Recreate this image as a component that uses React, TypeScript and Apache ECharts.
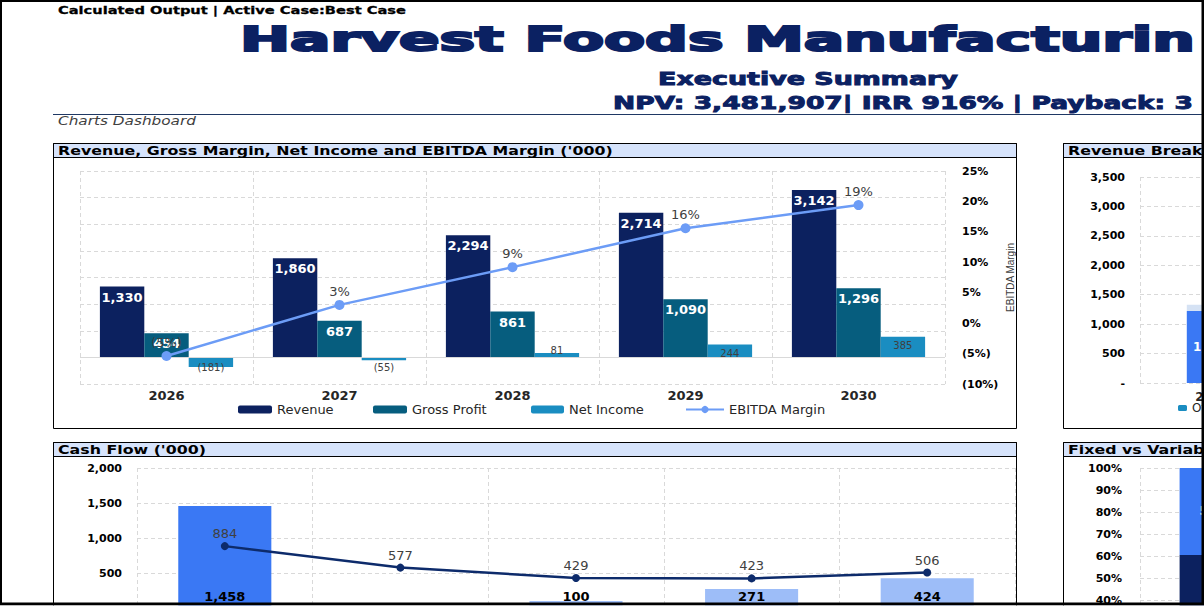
import React, { useEffect, useRef } from "react";
import * as echarts from "echarts";

// ---------- data ----------
const years = ["2026", "2027", "2028", "2029", "2030"];

// Revenue, Gross Margin, Net Income and EBITDA Margin ('000)
const revenue = [1330, 1860, 2294, 2714, 3142];
const grossProfit = [454, 687, 861, 1090, 1296];
const netIncome = [-181, -55, 81, 244, 385];
const ebitdaMargin = [-5.4, 3.0, 9.2, 15.6, 19.4]; // %

// Revenue Breakdown ('000)
const revOther = [0, 0, 0, 0, 0];
const revCore = [1224, 1700, 2100, 2480, 2860];
const revServices = [106, 160, 194, 234, 282];

// Cash Flow ('000)
const cashFlowBars = [1458, -120, 100, 271, 424];
const cashFlowLine = [884, 577, 429, 423, 506];

// Fixed vs Variable Costs
const fixedCosts = [804, 850, 900, 950, 1000];
const variableCosts = [525, 700, 860, 1010, 1160];

// ---------- styling helpers ----------
const FONT = '"DejaVu Sans", Verdana, sans-serif';
const NAVY = "#0C215F";
const TEAL = "#065D7E";
const CYAN = "#1A8DC1";
const LIGHT_LINE = "#6C9CF6";
const BLUE = "#3A78F4";
const PALE_BLUE = "#9DBDF8";
const GRID_LINE = "#D9D9D9";
const HEADER_BG = "#D6E3FB";

const fmtNum = (v: number) =>
  v < 0 ? `(${Math.abs(v).toLocaleString("en-US")})` : v.toLocaleString("en-US");
const fmtPct = (v: number) =>
  v < 0 ? `(${Math.abs(Math.round(v))}%)` : `${Math.round(v)}%`;

let measureCtx: CanvasRenderingContext2D | null = null;
function measure(text: string, font: string) {
  if (!measureCtx) measureCtx = document.createElement("canvas").getContext("2d");
  measureCtx!.font = font;
  return measureCtx!.measureText(text).width;
}

type TOpts = {
  size: number;
  weight?: string;
  style?: string;
  fill: string;
  family?: string;
  stroke?: number;
};
function fontStr(o: TOpts) {
  return `${o.style || "normal"} ${o.weight || "normal"} ${o.size}px ${o.family || FONT}`;
}
function textScaled(text: string, x: number, y: number, scale: number, o: TOpts) {
  const style: any = {
    text,
    x: 0,
    y: 0,
    fontSize: o.size,
    fontWeight: o.weight || "normal",
    fontStyle: o.style || "normal",
    fontFamily: o.family || FONT,
    fill: o.fill,
    align: "left",
    verticalAlign: "middle",
  };
  if (o.stroke) {
    style.stroke = o.fill;
    style.lineWidth = o.stroke;
  }
  return { type: "text", x, y, scaleX: scale, z: 120, silent: true, style };
}
function textFit(text: string, x: number, y: number, width: number, o: TOpts) {
  const w = measure(text, fontStr(o));
  return textScaled(text, x, y, width / w, o);
}

const dashed = { show: true, lineStyle: { color: GRID_LINE, type: [4, 3] as any, width: 1 } };

function buildOption() {
  const headerOpts: TOpts = { size: 12, weight: "bold", fill: "#000" };
  const h1 = "Revenue, Gross Margin, Net Income and EBITDA Margin ('000)";
  const headerScale = 555 / measure(h1, fontStr(headerOpts));

  const panel = (x: number, y: number, w: number, h: number) => [
    {
      type: "rect",
      z: 110,
      silent: true,
      shape: { x, y, width: w, height: 14 },
      style: { fill: HEADER_BG, stroke: "#000", lineWidth: 1 },
    },
    {
      type: "rect",
      z: 111,
      silent: true,
      shape: { x, y, width: w, height: h },
      style: { fill: "none", stroke: "#000", lineWidth: 1 },
    },
  ];

  const graphic: any[] = [
    ...panel(53.5, 143.5, 963, 285),
    ...panel(1063.5, 143.5, 300, 285),
    ...panel(53.5, 442.5, 963, 300),
    ...panel(1063.5, 442.5, 300, 300),
    textScaled(h1, 58, 150.5, headerScale, headerOpts),
    textScaled("Revenue Breakdown ('000)", 1068, 150.5, headerScale, headerOpts),
    textScaled("Cash Flow ('000)", 58, 449.5, headerScale, headerOpts),
    textScaled("Fixed vs Variable Costs", 1068, 449.5, headerScale, headerOpts),
    textFit("Calculated Output | Active Case:Best Case", 58, 10, 348, {
      size: 11,
      weight: "bold",
      fill: "#000",
      stroke: 0.3,
    }),
    textFit("Harvest Foods Manufacturin", 240, 39.5, 955, {
      size: 33,
      weight: "bold",
      fill: "#0B2162",
      stroke: 2,
    }),
    textFit("Executive Summary", 658, 79, 300, {
      size: 17,
      weight: "bold",
      fill: "#0B2162",
      stroke: 0.9,
    }),
    textFit("NPV: 3,481,907| IRR 916% | Payback: 3", 613, 103, 580, {
      size: 17,
      weight: "bold",
      fill: "#0B2162",
      stroke: 0.9,
    }),
    {
      type: "line",
      z: 100,
      silent: true,
      shape: { x1: 53, y1: 114.5, x2: 1204, y2: 114.5 },
      style: { stroke: "#1F3864", lineWidth: 1.2 },
    },
    textFit("Charts Dashboard", 58, 121, 138, {
      size: 12,
      style: "italic",
      fill: "#404040",
    }),
    // outer frame
    { type: "rect", z: 130, silent: true, shape: { x: 0, y: 0, width: 1204, height: 2 }, style: { fill: "#000" } },
    { type: "rect", z: 130, silent: true, shape: { x: 0, y: 0, width: 2, height: 605 }, style: { fill: "#000" } },
    { type: "rect", z: 130, silent: true, shape: { x: 1201.5, y: 0, width: 2.5, height: 605 }, style: { fill: "#000" } },
    { type: "rect", z: 130, silent: true, shape: { x: 0, y: 602.5, width: 1204, height: 3 }, style: { fill: "#000" } },
    { type: "rect", z: 130, silent: true, shape: { x: 0, y: 605.5, width: 1204, height: 3 }, style: { fill: "#fff" } },
  ];

  const catAxis = (gridIndex: number, labelSize: number, margin: number) => ({
    type: "category",
    gridIndex,
    data: years,
    axisLine: { show: false },
    axisTick: { show: false },
    splitLine: dashed,
    axisLabel: {
      fontFamily: FONT,
      fontWeight: "bold",
      fontSize: labelSize,
      color: "#262626",
      margin,
    },
  });

  const legendBase = {
    orient: "horizontal",
    padding: 0,
    selectedMode: false,
    itemGap: 20,
    width: 2000,
    textStyle: { fontFamily: FONT, fontSize: 13, color: "#262626" },
  };

  return {
    animation: false,
    backgroundColor: "#fff",
    graphic,
    grid: [
      { left: 80, top: 171, width: 865, height: 213, outerBoundsMode: "none" },
      { left: 1140, top: 177, width: 720, height: 206, outerBoundsMode: "none" },
      { left: 137, top: 468, width: 878, height: 175, outerBoundsMode: "none" },
      { left: 1140, top: 468, width: 720, height: 220, outerBoundsMode: "none" },
    ],
    legend: [
      { ...legendBase, data: ["Revenue"], left: 238, top: 403, itemWidth: 34, itemHeight: 8 },
      { ...legendBase, data: ["Gross Profit"], left: 373, top: 403, itemWidth: 34, itemHeight: 8 },
      { ...legendBase, data: ["Net Income"], left: 531, top: 403, itemWidth: 33, itemHeight: 8 },
      { ...legendBase, data: ["EBITDA Margin"], left: 685, top: 403, itemWidth: 38, itemHeight: 9 },
      {
        ...legendBase,
        data: ["Other", "Core Products", "Services"],
        left: 1178,
        top: 402,
        itemWidth: 9,
        itemHeight: 6,
        textStyle: { fontFamily: FONT, fontSize: 12, color: "#262626" },
      },
    ],
    xAxis: [catAxis(0, 13, 5), catAxis(1, 12, 8), catAxis(2, 13, 6), catAxis(3, 12, 6)],
    yAxis: [
      {
        type: "value",
        gridIndex: 0,
        min: -500,
        max: 3500,
        interval: 500,
        axisLabel: { show: false },
        axisLine: { show: false },
        axisTick: { show: false },
        splitLine: dashed,
      },
      {
        type: "value",
        gridIndex: 0,
        position: "right",
        min: -10,
        max: 25,
        interval: 5,
        axisLine: { show: false },
        axisTick: { show: false },
        splitLine: { show: false },
        axisLabel: {
          formatter: (v: number) => fmtPct(v),
          fontFamily: FONT,
          fontWeight: "bold",
          fontSize: 11,
          color: "#000",
          margin: 17,
        },
        name: "EBITDA Margin",
        nameLocation: "middle",
        nameRotate: 90,
        nameGap: 60,
        nameMoveOverlap: false,
        nameTextStyle: {
          fontFamily: '"Liberation Sans", sans-serif',
          fontSize: 10,
          color: "#404040",
        },
      },
      {
        type: "value",
        gridIndex: 1,
        min: 0,
        max: 3500,
        interval: 500,
        axisLine: { show: false },
        axisTick: { show: false },
        splitLine: dashed,
        axisLabel: {
          formatter: (v: number) => (v === 0 ? "-" : fmtNum(v)),
          fontFamily: FONT,
          fontWeight: "bold",
          fontSize: 11,
          color: "#000",
          margin: 15,
        },
      },
      {
        type: "value",
        gridIndex: 2,
        min: -500,
        max: 2000,
        interval: 500,
        axisLine: { show: false },
        axisTick: { show: false },
        splitLine: dashed,
        axisLabel: {
          formatter: (v: number) => (v === 0 ? "-" : fmtNum(v)),
          fontFamily: FONT,
          fontWeight: "bold",
          fontSize: 11,
          color: "#000",
          margin: 15,
        },
      },
      {
        type: "value",
        gridIndex: 3,
        min: 0,
        max: 100,
        interval: 10,
        axisLine: { show: false },
        axisTick: { show: false },
        splitLine: dashed,
        axisLabel: {
          formatter: "{value}%",
          fontFamily: FONT,
          fontWeight: "bold",
          fontSize: 11,
          color: "#000",
          margin: 18,
        },
      },
    ],
    series: [
      {
        name: "Revenue",
        type: "bar",
        xAxisIndex: 0,
        yAxisIndex: 0,
        data: revenue,
        barGap: "0%",
        barCategoryGap: "23%",
        itemStyle: { color: NAVY },
        label: {
          show: true,
          position: "insideTop",
          distance: 4,
          color: "#fff",
          fontFamily: FONT,
          fontWeight: "bold",
          fontSize: 13,
          formatter: (p: any) => fmtNum(p.value),
        },
        markLine: {
          silent: true,
          symbol: "none",
          label: { show: false },
          lineStyle: { color: GRID_LINE, type: "solid", width: 1 },
          data: [{ yAxis: 0 }],
        },
      },
      {
        name: "Gross Profit",
        type: "bar",
        xAxisIndex: 0,
        yAxisIndex: 0,
        data: grossProfit,
        barGap: "0%",
        barCategoryGap: "23%",
        itemStyle: { color: TEAL },
        label: {
          show: true,
          position: "insideTop",
          distance: 4,
          color: "#fff",
          fontFamily: FONT,
          fontWeight: "bold",
          fontSize: 13,
          formatter: (p: any) => fmtNum(p.value),
        },
      },
      {
        name: "Net Income",
        type: "bar",
        xAxisIndex: 0,
        yAxisIndex: 0,
        data: netIncome.map((v) => ({
          value: v,
          label:
            v < 0
              ? { position: "bottom", distance: v > -100 ? 2 : -5 }
              : v < 150
              ? { position: "top", distance: -2 }
              : { position: "insideTop", distance: 4 },
        })),
        barGap: "0%",
        barCategoryGap: "23%",
        itemStyle: { color: CYAN },
        label: {
          show: true,
          color: "#404040",
          fontFamily: FONT,
          fontSize: 10,
          formatter: (p: any) => fmtNum(p.value),
        },
      },
      {
        name: "EBITDA Margin",
        type: "line",
        xAxisIndex: 0,
        yAxisIndex: 1,
        data: ebitdaMargin,
        symbol: "circle",
        symbolSize: 10,
        lineStyle: { color: LIGHT_LINE, width: 2.5 },
        itemStyle: { color: LIGHT_LINE },
        label: {
          show: true,
          position: "top",
          distance: 2,
          color: "#404040",
          fontFamily: FONT,
          fontSize: 13,
          formatter: (p: any) => fmtPct(p.value),
        },
        z: 5,
      },
      // Revenue breakdown
      {
        name: "Other",
        type: "bar",
        xAxisIndex: 1,
        yAxisIndex: 2,
        stack: "rb",
        data: revOther,
        barCategoryGap: "65%",
        itemStyle: { color: CYAN },
      },
      {
        name: "Core Products",
        type: "bar",
        xAxisIndex: 1,
        yAxisIndex: 2,
        stack: "rb",
        data: revCore,
        barCategoryGap: "65%",
        itemStyle: { color: BLUE },
        label: {
          show: true,
          position: "inside",
          color: "#fff",
          fontFamily: FONT,
          fontWeight: "bold",
          fontSize: 12,
          formatter: (p: any) => fmtNum(p.value),
        },
      },
      {
        name: "Services",
        type: "bar",
        xAxisIndex: 1,
        yAxisIndex: 2,
        stack: "rb",
        data: revServices,
        barCategoryGap: "65%",
        itemStyle: { color: "#D5E2F4" },
      },
      // Cash flow
      {
        name: "Net Cash Flow",
        type: "bar",
        xAxisIndex: 2,
        yAxisIndex: 3,
        data: cashFlowBars.map((v, i) => ({
          value: v,
          itemStyle: { color: i === 0 ? BLUE : PALE_BLUE },
          label: v < 0 ? { position: "bottom", distance: 5 } : {},
        })),
        barCategoryGap: "47%",
        label: {
          show: true,
          position: "insideBottom",
          distance: 5,
          color: "#000",
          fontFamily: FONT,
          fontWeight: "bold",
          fontSize: 13,
          formatter: (p: any) => fmtNum(p.value),
        },
      },
      {
        name: "Operating Cash Flow",
        type: "line",
        xAxisIndex: 2,
        yAxisIndex: 3,
        data: cashFlowLine,
        symbol: "circle",
        symbolSize: 8,
        lineStyle: { color: "#0D2B6B", width: 2.5 },
        itemStyle: { color: "#0D2B6B" },
        label: {
          show: true,
          position: "top",
          distance: 2,
          color: "#404040",
          fontFamily: FONT,
          fontSize: 13,
          formatter: (p: any) => fmtNum(p.value),
        },
        z: 5,
      },
      // Fixed vs variable (100% stacked)
      {
        name: "Fixed",
        type: "bar",
        xAxisIndex: 3,
        yAxisIndex: 4,
        stack: "fv",
        barCategoryGap: "55%",
        data: fixedCosts.map((v, i) => (v / (v + variableCosts[i])) * 100),
        itemStyle: { color: NAVY },
        label: {
          show: true,
          position: "inside",
          color: "#fff",
          fontFamily: FONT,
          fontWeight: "bold",
          fontSize: 12,
          formatter: (p: any) => fmtNum(fixedCosts[p.dataIndex]),
        },
      },
      {
        name: "Variable",
        type: "bar",
        xAxisIndex: 3,
        yAxisIndex: 4,
        stack: "fv",
        barCategoryGap: "55%",
        data: variableCosts.map((v, i) => (v / (v + fixedCosts[i])) * 100),
        itemStyle: { color: BLUE },
        label: {
          show: true,
          position: "inside",
          color: "#fff",
          fontFamily: FONT,
          fontWeight: "bold",
          fontSize: 12,
          formatter: (p: any) => fmtNum(variableCosts[p.dataIndex]),
        },
      },
    ],
  };
}

export default function App() {
  const ref = useRef<HTMLDivElement>(null);
  useEffect(() => {
    if (!ref.current) return;
    const chart = echarts.init(ref.current, null, { renderer: "svg", width: 1204, height: 608 });
    chart.setOption(buildOption() as any);
    return () => chart.dispose();
  }, []);
  return (
    <div
      ref={ref}
      style={{ position: "fixed", left: 0, top: 0, width: 1204, height: 608, background: "#fff" }}
    />
  );
}
